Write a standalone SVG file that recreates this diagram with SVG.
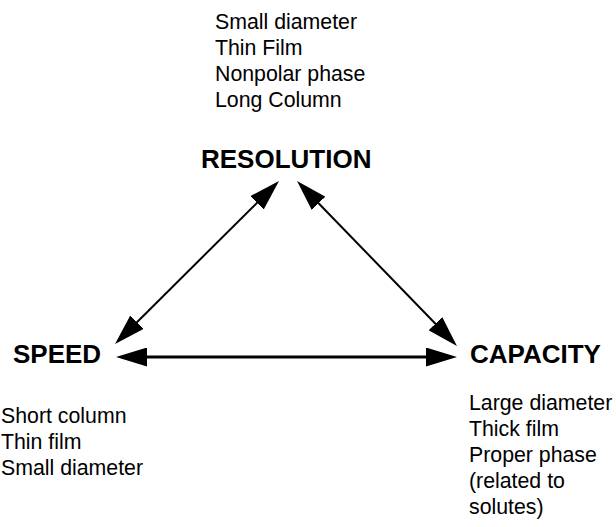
<svg xmlns="http://www.w3.org/2000/svg" width="616" height="527" viewBox="0 0 616 527">
<style>
.t{font-family:"Liberation Sans",Arial,sans-serif;font-size:21.3px;fill:#000}
.h{font-family:"Liberation Sans",Arial,sans-serif;font-size:26px;font-weight:bold;fill:#000}
.c{stroke:#000;fill:none}
</style>
<defs>
<marker id="ah" markerUnits="userSpaceOnUse" viewBox="0 0 31 19" markerWidth="31" markerHeight="19" refX="21" refY="9.5" orient="auto-start-reverse">
<path d="M0,0 L31,9.5 L0,19 z" fill="#000"/>
</marker>
</defs>
<rect width="616" height="527" fill="#fff"/>
<g id="connectors">
<line class="c" x1="122.1" y1="337" x2="271.9" y2="188" stroke-width="2" marker-start="url(#ah)" marker-end="url(#ah)"/>
<line class="c" x1="304" y1="188.2" x2="450" y2="338.8" stroke-width="2" marker-start="url(#ah)" marker-end="url(#ah)"/>
<line class="c" x1="126" y1="357" x2="447" y2="357" stroke-width="3" marker-start="url(#ah)" marker-end="url(#ah)"/>
</g>
<g id="resolution">
<text class="t" x="215" y="29">Small diameter</text>
<text class="t" x="215" y="55">Thin Film</text>
<text class="t" x="215" y="81">Nonpolar phase</text>
<text class="t" x="215" y="107">Long Column</text>
<text class="h" x="201" y="168">RESOLUTION</text>
</g>
<g id="speed">
<text class="h" x="13" y="363">SPEED</text>
<text class="t" x="1" y="423">Short column</text>
<text class="t" x="1" y="449">Thin film</text>
<text class="t" x="1" y="475">Small diameter</text>
</g>
<g id="capacity">
<text class="h" x="470" y="363">CAPACITY</text>
<text class="t" x="469" y="410">Large diameter</text>
<text class="t" x="469" y="436">Thick film</text>
<text class="t" x="469" y="462">Proper phase</text>
<text class="t" x="469" y="488">(related to</text>
<text class="t" x="469" y="514">solutes)</text>
</g>
</svg>
